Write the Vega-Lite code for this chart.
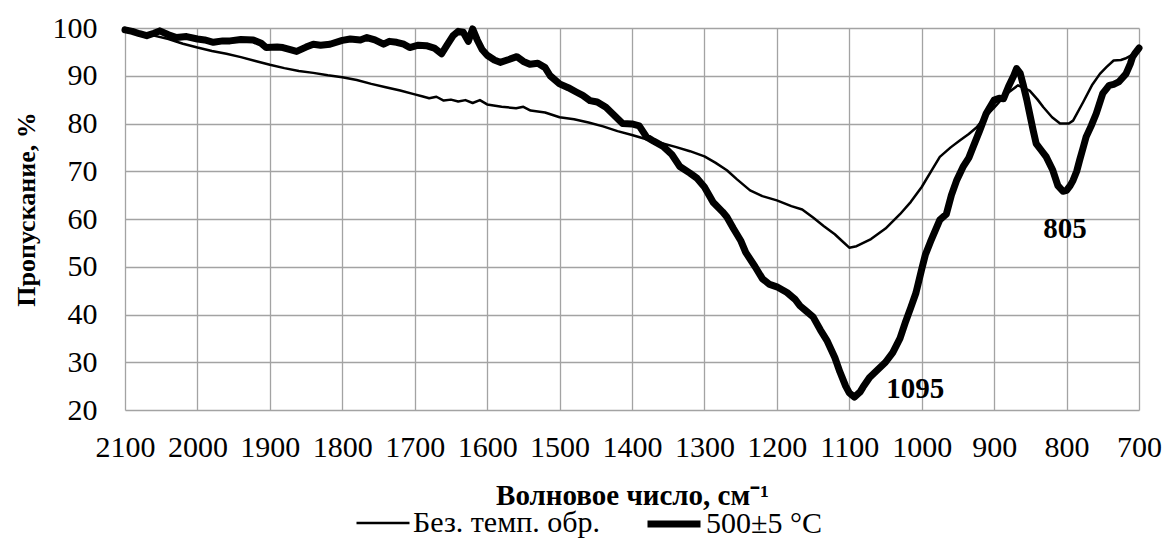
{
  "$schema": "https://vega.github.io/schema/vega-lite/v6.json",
  "width": 1014,
  "height": 382,
  "autosize": {"type": "none"},
  "padding": {"left": 125, "top": 28, "right": 25, "bottom": 129},
  "background": "white",
  "config": {
    "font": "Liberation Serif",
    "view": {"stroke": null},
    "axis": {"labelFont": "Liberation Serif", "titleFont": "Liberation Serif", "labelColor": "black", "titleColor": "black", "gridColor": "#a3a3a3", "gridWidth": 1.3, "domain": false, "ticks": false, "labelFlush": false, "labelOverlap": false, "format": "d"},
    "legend": {"labelFont": "Liberation Serif"}
  },
  "datasets": {
    "spectra": [
      {"s": "Без. темп. обр.", "w": 2100, "t": 100},
      {"s": "Без. темп. обр.", "w": 2080, "t": 99.0},
      {"s": "Без. темп. обр.", "w": 2060, "t": 98.4},
      {"s": "Без. темп. обр.", "w": 2040, "t": 97.7},
      {"s": "Без. темп. обр.", "w": 2020, "t": 96.7},
      {"s": "Без. темп. обр.", "w": 2000, "t": 95.9},
      {"s": "Без. темп. обр.", "w": 1980, "t": 95.2},
      {"s": "Без. темп. обр.", "w": 1960, "t": 94.6},
      {"s": "Без. темп. обр.", "w": 1940, "t": 93.9},
      {"s": "Без. темп. обр.", "w": 1920, "t": 93.1},
      {"s": "Без. темп. обр.", "w": 1900, "t": 92.3},
      {"s": "Без. темп. обр.", "w": 1880, "t": 91.6},
      {"s": "Без. темп. обр.", "w": 1860, "t": 91.0},
      {"s": "Без. темп. обр.", "w": 1840, "t": 90.6},
      {"s": "Без. темп. обр.", "w": 1820, "t": 90.1},
      {"s": "Без. темп. обр.", "w": 1800, "t": 89.7},
      {"s": "Без. темп. обр.", "w": 1780, "t": 89.1},
      {"s": "Без. темп. обр.", "w": 1760, "t": 88.3},
      {"s": "Без. темп. обр.", "w": 1740, "t": 87.6},
      {"s": "Без. темп. обр.", "w": 1720, "t": 86.9},
      {"s": "Без. темп. обр.", "w": 1700, "t": 86.1},
      {"s": "Без. темп. обр.", "w": 1690, "t": 85.7},
      {"s": "Без. темп. обр.", "w": 1680, "t": 85.3},
      {"s": "Без. темп. обр.", "w": 1670, "t": 85.6},
      {"s": "Без. темп. обр.", "w": 1660, "t": 84.8},
      {"s": "Без. темп. обр.", "w": 1650, "t": 85.0},
      {"s": "Без. темп. обр.", "w": 1640, "t": 84.6},
      {"s": "Без. темп. обр.", "w": 1630, "t": 84.9},
      {"s": "Без. темп. обр.", "w": 1620, "t": 84.3},
      {"s": "Без. темп. обр.", "w": 1610, "t": 84.9},
      {"s": "Без. темп. обр.", "w": 1600, "t": 84.0},
      {"s": "Без. темп. обр.", "w": 1580, "t": 83.5},
      {"s": "Без. темп. обр.", "w": 1560, "t": 83.2},
      {"s": "Без. темп. обр.", "w": 1550, "t": 83.5},
      {"s": "Без. темп. обр.", "w": 1540, "t": 82.7},
      {"s": "Без. темп. обр.", "w": 1520, "t": 82.3},
      {"s": "Без. темп. обр.", "w": 1500, "t": 81.3},
      {"s": "Без. темп. обр.", "w": 1480, "t": 80.9},
      {"s": "Без. темп. обр.", "w": 1460, "t": 80.2},
      {"s": "Без. темп. обр.", "w": 1440, "t": 79.4},
      {"s": "Без. темп. обр.", "w": 1420, "t": 78.4},
      {"s": "Без. темп. обр.", "w": 1400, "t": 77.6},
      {"s": "Без. темп. обр.", "w": 1380, "t": 76.7},
      {"s": "Без. темп. обр.", "w": 1360, "t": 75.9},
      {"s": "Без. темп. обр.", "w": 1340, "t": 75.1},
      {"s": "Без. темп. обр.", "w": 1320, "t": 74.2},
      {"s": "Без. темп. обр.", "w": 1300, "t": 73.1},
      {"s": "Без. темп. обр.", "w": 1285, "t": 71.8},
      {"s": "Без. темп. обр.", "w": 1269, "t": 70.2},
      {"s": "Без. темп. обр.", "w": 1255, "t": 68.3},
      {"s": "Без. темп. обр.", "w": 1237, "t": 66.0},
      {"s": "Без. темп. обр.", "w": 1220, "t": 64.8},
      {"s": "Без. темп. обр.", "w": 1200, "t": 63.9},
      {"s": "Без. темп. обр.", "w": 1180, "t": 62.7},
      {"s": "Без. темп. обр.", "w": 1165, "t": 62.0},
      {"s": "Без. темп. обр.", "w": 1150, "t": 60.3},
      {"s": "Без. темп. обр.", "w": 1135, "t": 58.5},
      {"s": "Без. темп. обр.", "w": 1120, "t": 56.8},
      {"s": "Без. темп. обр.", "w": 1110, "t": 55.4},
      {"s": "Без. темп. обр.", "w": 1100, "t": 54.0},
      {"s": "Без. темп. обр.", "w": 1090, "t": 54.3},
      {"s": "Без. темп. обр.", "w": 1070, "t": 55.8},
      {"s": "Без. темп. обр.", "w": 1050, "t": 58.0},
      {"s": "Без. темп. обр.", "w": 1030, "t": 61.0},
      {"s": "Без. темп. обр.", "w": 1015, "t": 63.6},
      {"s": "Без. темп. обр.", "w": 1000, "t": 66.7},
      {"s": "Без. темп. обр.", "w": 985, "t": 70.5},
      {"s": "Без. темп. обр.", "w": 975, "t": 73.0},
      {"s": "Без. темп. обр.", "w": 960, "t": 75.0},
      {"s": "Без. темп. обр.", "w": 947, "t": 76.5},
      {"s": "Без. темп. обр.", "w": 935, "t": 77.8},
      {"s": "Без. темп. обр.", "w": 924, "t": 79.2},
      {"s": "Без. темп. обр.", "w": 917, "t": 80.6},
      {"s": "Без. темп. обр.", "w": 900, "t": 83.3},
      {"s": "Без. темп. обр.", "w": 883, "t": 86.2},
      {"s": "Без. темп. обр.", "w": 867, "t": 88.0},
      {"s": "Без. темп. обр.", "w": 851, "t": 86.9},
      {"s": "Без. темп. обр.", "w": 840, "t": 85.0},
      {"s": "Без. темп. обр.", "w": 832, "t": 83.4},
      {"s": "Без. темп. обр.", "w": 820, "t": 81.3},
      {"s": "Без. темп. обр.", "w": 809, "t": 80.0},
      {"s": "Без. темп. обр.", "w": 797, "t": 80.0},
      {"s": "Без. темп. обр.", "w": 791, "t": 80.6},
      {"s": "Без. темп. обр.", "w": 777, "t": 84.5},
      {"s": "Без. темп. обр.", "w": 765, "t": 88.0},
      {"s": "Без. темп. обр.", "w": 754, "t": 90.4},
      {"s": "Без. темп. обр.", "w": 745, "t": 91.8},
      {"s": "Без. темп. обр.", "w": 735, "t": 93.2},
      {"s": "Без. темп. обр.", "w": 725, "t": 93.3},
      {"s": "Без. темп. обр.", "w": 719, "t": 93.6},
      {"s": "Без. темп. обр.", "w": 710, "t": 94.3},
      {"s": "Без. темп. обр.", "w": 701, "t": 95.7},
      {"s": "500±5 °C", "w": 2100, "t": 99.6},
      {"s": "500±5 °C", "w": 2090, "t": 99.3},
      {"s": "500±5 °C", "w": 2080, "t": 98.8},
      {"s": "500±5 °C", "w": 2070, "t": 98.4},
      {"s": "500±5 °C", "w": 2060, "t": 98.9},
      {"s": "500±5 °C", "w": 2052, "t": 99.4},
      {"s": "500±5 °C", "w": 2040, "t": 98.6},
      {"s": "500±5 °C", "w": 2029, "t": 98.0},
      {"s": "500±5 °C", "w": 2015, "t": 98.2},
      {"s": "500±5 °C", "w": 2000, "t": 97.7},
      {"s": "500±5 °C", "w": 1990, "t": 97.5},
      {"s": "500±5 °C", "w": 1978, "t": 97.0},
      {"s": "500±5 °C", "w": 1965, "t": 97.3},
      {"s": "500±5 °C", "w": 1955, "t": 97.3},
      {"s": "500±5 °C", "w": 1940, "t": 97.6},
      {"s": "500±5 °C", "w": 1923, "t": 97.5},
      {"s": "500±5 °C", "w": 1912, "t": 96.8},
      {"s": "500±5 °C", "w": 1905, "t": 95.9},
      {"s": "500±5 °C", "w": 1890, "t": 96.0},
      {"s": "500±5 °C", "w": 1882, "t": 95.9},
      {"s": "500±5 °C", "w": 1863, "t": 95.1},
      {"s": "500±5 °C", "w": 1850, "t": 96.0},
      {"s": "500±5 °C", "w": 1840, "t": 96.6},
      {"s": "500±5 °C", "w": 1830, "t": 96.4},
      {"s": "500±5 °C", "w": 1817, "t": 96.6},
      {"s": "500±5 °C", "w": 1800, "t": 97.4},
      {"s": "500±5 °C", "w": 1789, "t": 97.7},
      {"s": "500±5 °C", "w": 1775, "t": 97.5},
      {"s": "500±5 °C", "w": 1766, "t": 98.0},
      {"s": "500±5 °C", "w": 1755, "t": 97.5},
      {"s": "500±5 °C", "w": 1743, "t": 96.6},
      {"s": "500±5 °C", "w": 1735, "t": 97.2},
      {"s": "500±5 °C", "w": 1725, "t": 97.0},
      {"s": "500±5 °C", "w": 1715, "t": 96.6},
      {"s": "500±5 °C", "w": 1707, "t": 95.9},
      {"s": "500±5 °C", "w": 1695, "t": 96.4},
      {"s": "500±5 °C", "w": 1684, "t": 96.3},
      {"s": "500±5 °C", "w": 1673, "t": 95.8},
      {"s": "500±5 °C", "w": 1663, "t": 94.6},
      {"s": "500±5 °C", "w": 1655, "t": 96.5},
      {"s": "500±5 °C", "w": 1647, "t": 98.4},
      {"s": "500±5 °C", "w": 1640, "t": 99.3},
      {"s": "500±5 °C", "w": 1633, "t": 99.1},
      {"s": "500±5 °C", "w": 1626, "t": 97.2},
      {"s": "500±5 °C", "w": 1620, "t": 99.8},
      {"s": "500±5 °C", "w": 1614, "t": 97.6},
      {"s": "500±5 °C", "w": 1607, "t": 95.5},
      {"s": "500±5 °C", "w": 1600, "t": 94.3},
      {"s": "500±5 °C", "w": 1590, "t": 93.3},
      {"s": "500±5 °C", "w": 1582, "t": 92.8},
      {"s": "500±5 °C", "w": 1570, "t": 93.4},
      {"s": "500±5 °C", "w": 1559, "t": 94.0},
      {"s": "500±5 °C", "w": 1550, "t": 93.0},
      {"s": "500±5 °C", "w": 1541, "t": 92.4},
      {"s": "500±5 °C", "w": 1530, "t": 92.6},
      {"s": "500±5 °C", "w": 1520, "t": 91.7},
      {"s": "500±5 °C", "w": 1513, "t": 90.0},
      {"s": "500±5 °C", "w": 1500, "t": 88.3},
      {"s": "500±5 °C", "w": 1488, "t": 87.5},
      {"s": "500±5 °C", "w": 1477, "t": 86.6},
      {"s": "500±5 °C", "w": 1468, "t": 85.9},
      {"s": "500±5 °C", "w": 1458, "t": 84.8},
      {"s": "500±5 °C", "w": 1448, "t": 84.5},
      {"s": "500±5 °C", "w": 1436, "t": 83.4},
      {"s": "500±5 °C", "w": 1425, "t": 81.8},
      {"s": "500±5 °C", "w": 1413, "t": 80.0},
      {"s": "500±5 °C", "w": 1400, "t": 79.9},
      {"s": "500±5 °C", "w": 1390, "t": 79.5},
      {"s": "500±5 °C", "w": 1380, "t": 77.2},
      {"s": "500±5 °C", "w": 1370, "t": 76.3},
      {"s": "500±5 °C", "w": 1357, "t": 75.2},
      {"s": "500±5 °C", "w": 1345, "t": 73.5},
      {"s": "500±5 °C", "w": 1334, "t": 71.0},
      {"s": "500±5 °C", "w": 1320, "t": 69.6},
      {"s": "500±5 °C", "w": 1310, "t": 68.5},
      {"s": "500±5 °C", "w": 1300, "t": 66.7},
      {"s": "500±5 °C", "w": 1288, "t": 63.5},
      {"s": "500±5 °C", "w": 1275, "t": 61.5},
      {"s": "500±5 °C", "w": 1269, "t": 60.4},
      {"s": "500±5 °C", "w": 1260, "t": 58.0},
      {"s": "500±5 °C", "w": 1250, "t": 55.5},
      {"s": "500±5 °C", "w": 1243, "t": 53.0},
      {"s": "500±5 °C", "w": 1230, "t": 50.0},
      {"s": "500±5 °C", "w": 1220, "t": 47.5},
      {"s": "500±5 °C", "w": 1210, "t": 46.3},
      {"s": "500±5 °C", "w": 1200, "t": 45.8},
      {"s": "500±5 °C", "w": 1186, "t": 44.6},
      {"s": "500±5 °C", "w": 1175, "t": 43.2},
      {"s": "500±5 °C", "w": 1168, "t": 41.8},
      {"s": "500±5 °C", "w": 1160, "t": 40.8},
      {"s": "500±5 °C", "w": 1150, "t": 39.5},
      {"s": "500±5 °C", "w": 1140, "t": 36.8},
      {"s": "500±5 °C", "w": 1131, "t": 34.6},
      {"s": "500±5 °C", "w": 1120, "t": 31.0},
      {"s": "500±5 °C", "w": 1113, "t": 28.0},
      {"s": "500±5 °C", "w": 1105, "t": 25.0},
      {"s": "500±5 °C", "w": 1100, "t": 23.6},
      {"s": "500±5 °C", "w": 1093, "t": 22.7},
      {"s": "500±5 °C", "w": 1085, "t": 23.8},
      {"s": "500±5 °C", "w": 1081, "t": 24.8},
      {"s": "500±5 °C", "w": 1072, "t": 26.8},
      {"s": "500±5 °C", "w": 1063, "t": 28.1},
      {"s": "500±5 °C", "w": 1050, "t": 30.0},
      {"s": "500±5 °C", "w": 1040, "t": 32.0},
      {"s": "500±5 °C", "w": 1030, "t": 35.0},
      {"s": "500±5 °C", "w": 1022, "t": 38.6},
      {"s": "500±5 °C", "w": 1015, "t": 41.5},
      {"s": "500±5 °C", "w": 1008, "t": 44.5},
      {"s": "500±5 °C", "w": 1000, "t": 49.5},
      {"s": "500±5 °C", "w": 995, "t": 52.5},
      {"s": "500±5 °C", "w": 988, "t": 55.2},
      {"s": "500±5 °C", "w": 975, "t": 59.8},
      {"s": "500±5 °C", "w": 966, "t": 61.0},
      {"s": "500±5 °C", "w": 959, "t": 65.0},
      {"s": "500±5 °C", "w": 952, "t": 68.0},
      {"s": "500±5 °C", "w": 943, "t": 70.9},
      {"s": "500±5 °C", "w": 935, "t": 72.8},
      {"s": "500±5 °C", "w": 929, "t": 75.1},
      {"s": "500±5 °C", "w": 920, "t": 78.5},
      {"s": "500±5 °C", "w": 911, "t": 82.1},
      {"s": "500±5 °C", "w": 900, "t": 84.9},
      {"s": "500±5 °C", "w": 893, "t": 85.3},
      {"s": "500±5 °C", "w": 887, "t": 85.2},
      {"s": "500±5 °C", "w": 880, "t": 87.8},
      {"s": "500±5 °C", "w": 873, "t": 90.0},
      {"s": "500±5 °C", "w": 869, "t": 91.5},
      {"s": "500±5 °C", "w": 864, "t": 90.5},
      {"s": "500±5 °C", "w": 860, "t": 88.2},
      {"s": "500±5 °C", "w": 855, "t": 85.0},
      {"s": "500±5 °C", "w": 851, "t": 82.1},
      {"s": "500±5 °C", "w": 846, "t": 78.5},
      {"s": "500±5 °C", "w": 842, "t": 75.8},
      {"s": "500±5 °C", "w": 835, "t": 74.4},
      {"s": "500±5 °C", "w": 828, "t": 73.0},
      {"s": "500±5 °C", "w": 819, "t": 70.2},
      {"s": "500±5 °C", "w": 812, "t": 67.0},
      {"s": "500±5 °C", "w": 805, "t": 65.8},
      {"s": "500±5 °C", "w": 800, "t": 66.0},
      {"s": "500±5 °C", "w": 795, "t": 67.0},
      {"s": "500±5 °C", "w": 791, "t": 68.1},
      {"s": "500±5 °C", "w": 786, "t": 70.0},
      {"s": "500±5 °C", "w": 782, "t": 72.3},
      {"s": "500±5 °C", "w": 777, "t": 75.0},
      {"s": "500±5 °C", "w": 773, "t": 77.2},
      {"s": "500±5 °C", "w": 766, "t": 79.5},
      {"s": "500±5 °C", "w": 759, "t": 82.1},
      {"s": "500±5 °C", "w": 750, "t": 86.3},
      {"s": "500±5 °C", "w": 741, "t": 88.0},
      {"s": "500±5 °C", "w": 735, "t": 88.2},
      {"s": "500±5 °C", "w": 728, "t": 88.7},
      {"s": "500±5 °C", "w": 718, "t": 90.4},
      {"s": "500±5 °C", "w": 712, "t": 92.5},
      {"s": "500±5 °C", "w": 709, "t": 93.9},
      {"s": "500±5 °C", "w": 705, "t": 94.8},
      {"s": "500±5 °C", "w": 700, "t": 95.8}
    ],
    "notes": [
      {"label": "1095", "w": 1009, "t": 24.5},
      {"label": "805", "w": 802, "t": 58.0}
    ]
  },
  "layer": [
    {
      "data": {"name": "spectra"},
      "mark": {"type": "line", "color": "black", "strokeJoin": "round", "strokeCap": "round"},
      "encoding": {
        "x": {
          "field": "w", "type": "quantitative",
          "scale": {"domain": [700, 2100], "reverse": true, "nice": false, "zero": false},
          "axis": {"values": [2100, 2000, 1900, 1800, 1700, 1600, 1500, 1400, 1300, 1200, 1100, 1000, 900, 800, 700], "format": "d", "labelFontSize": 30, "labelPadding": 22, "title": "Волновое число, см⁻¹", "titleFontSize": 29, "titleFontWeight": "bold", "titleY": 85, "titleBaseline": "middle"}
        },
        "y": {
          "field": "t", "type": "quantitative",
          "scale": {"domain": [20, 100], "nice": false, "zero": false},
          "axis": {"values": [20, 30, 40, 50, 60, 70, 80, 90, 100], "format": "d", "labelFontSize": 30, "labelPadding": 28, "title": "Пропускание,  %", "titleFontSize": 26, "titleFontWeight": "bold", "titleAngle": -90, "titleX": -99, "titleY": 181, "titleBaseline": "middle", "titleAlign": "center"}
        },
        "order": {"field": "w", "type": "quantitative", "sort": "descending"},
        "detail": {"field": "s"},
        "strokeWidth": {
          "field": "s", "type": "nominal",
          "scale": {"domain": ["Без. темп. обр.", "500±5 °C"], "range": [2.5, 7]},
          "legend": {"title": null, "orient": "none", "legendX": 230, "legendY": 466, "direction": "horizontal", "symbolType": "stroke", "symbolStrokeColor": "black", "symbolSize": 2809, "labelFontSize": 30, "labelColor": "black", "labelLimit": 400, "labelOffset": 2, "columnPadding": 33, "padding": 0}
        }
      }
    },
    {
      "data": {"name": "notes"},
      "mark": {"type": "text", "font": "Liberation Serif", "fontSize": 29, "fontWeight": "bold", "color": "black", "align": "center", "baseline": "middle"},
      "encoding": {
        "x": {"field": "w", "type": "quantitative"},
        "y": {"field": "t", "type": "quantitative"},
        "text": {"field": "label"}
      }
    }
  ]
}
